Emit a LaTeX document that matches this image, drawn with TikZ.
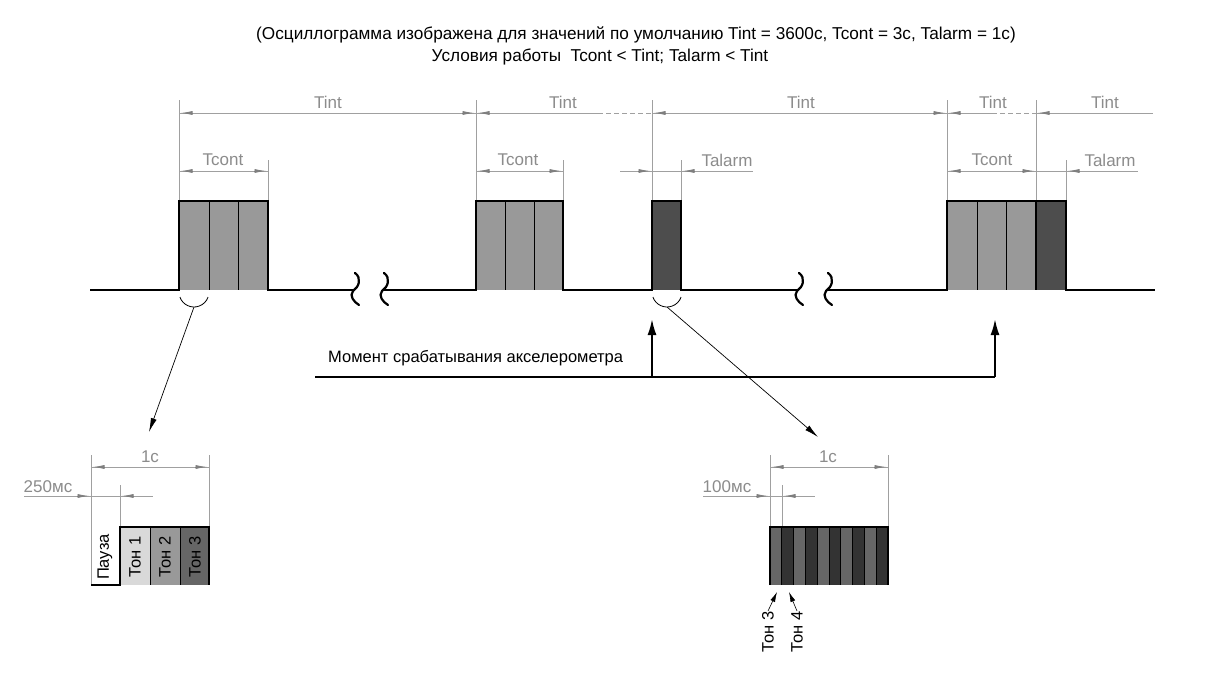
\documentclass[tikz,border=0pt]{standalone}
\usepackage{fontspec}
\setmainfont{Liberation Sans}
\usetikzlibrary{arrows.meta}
\definecolor{dimc}{HTML}{A0A0A0}
\definecolor{dimtipc}{HTML}{7F7F7F}
\definecolor{dimtxt}{HTML}{8C8C8C}
\definecolor{tonelight}{HTML}{D9D9D9}
\definecolor{tonemid}{HTML}{999999}
\definecolor{tonegray}{HTML}{666666}
\definecolor{tonedark}{HTML}{4D4D4D}
\definecolor{toneblack}{HTML}{333333}
\newcommand\mydimtip[3]{\pgfmathsetmacro\dta{#1+(#3)*14}\pgfmathsetmacro\dtb{#1+(#3)*1.5}\draw[dtip] (\dta,#2) -- (\dtb,#2);}
\newcommand\mybreak[1]{\draw[sig,line width=2.2pt,line cap=round] (#1+2,273) .. controls (#1+9,278) and (#1+6,287) .. (#1,291) .. controls (#1-4,296) and (#1+1,302) .. (#1+6,305);}
\tikzset{
  sig/.style={draw=black,line width=2.6pt,line join=miter},
  divl/.style={draw=black,line width=0.9pt},
  dimline/.style={draw=dimc,line width=0.9pt},
  dtip/.style={draw=dimtipc,line width=0.9pt,-{Latex[length=12pt,width=4pt]}},
  dlabel/.style={text=dimtxt,font=\fontsize{17}{20}\selectfont,inner sep=0pt},
  btext/.style={text=black,font=\fontsize{16.5}{19}\selectfont,inner sep=0pt},
  ttext/.style={text=black,font=\fontsize{17.2}{20}\selectfont,inner sep=0pt},
  rtext/.style={text=black,font=\fontsize{16.5}{19}\selectfont,inner sep=0pt,rotate=90},
  leader/.style={draw=black,line width=0.7pt,-{Latex[length=14pt,width=6pt]}},
  accel/.style={draw=black,line width=2pt},
  accarr/.style={draw=black,line width=2pt,-{Latex[length=16pt,width=9pt]}}
}
\begin{document}
\begin{tikzpicture}[x=1pt,y=-1pt]
\useasboundingbox[fill=white] (0,0) rectangle (1221,677);

% ---------- title ----------
\node[ttext] (title1) at (636,35) {(Осциллограмма изображена для значений по умолчанию Tint = 3600с, Tcont = 3с, Talarm = 1с)};
\node[ttext] (title2) at (600,57) {Условия работы\ \ Tcont < Tint; Talarm < Tint};

% ---------- pulse fills ----------
\fill[tonemid] (179,201) rectangle (268,290);
\fill[tonemid] (476,201) rectangle (563,290);
\fill[tonedark] (652,201) rectangle (681,290);
\fill[tonemid] (947,201) rectangle (1036,290);
\fill[tonedark] (1036,201) rectangle (1066,290);
\draw[divl] (209,201) -- (209,290) (238,201) -- (238,290);
\draw[divl] (505,201) -- (505,290) (534,201) -- (534,290);
\draw[divl] (977,201) -- (977,290) (1006,201) -- (1006,290);

% ---------- dimension lines (top) ----------
\draw[dimline] (179,100) -- (179,201) (476,100) -- (476,201) (652,100) -- (652,201)
  (947,100) -- (947,201) (1036,100) -- (1036,201);
\draw[dimline] (268,160) -- (268,201) (563,160) -- (563,201) (681,160) -- (681,201) (1066,160) -- (1066,201);
\draw[dimline] (179,113) -- (598,113) (652,113) -- (992,113) (1036,113) -- (1153,113);
\draw[dimline,dash pattern=on 5pt off 3pt] (598,113) -- (652,113) (992,113) -- (1036,113);
\draw[dimline] (179,171) -- (268,171) (476,171) -- (563,171) (620,171) -- (753,171) (947,171) -- (1138,171);
\mydimtip{179}{113}{1}
\mydimtip{476}{113}{-1}
\mydimtip{476}{113}{1}
\mydimtip{652}{113}{1}
\mydimtip{947}{113}{-1}
\mydimtip{947}{113}{1}
\mydimtip{1036}{113}{1}
\mydimtip{179}{171}{1}
\mydimtip{268}{171}{-1}
\mydimtip{476}{171}{1}
\mydimtip{563}{171}{-1}
\mydimtip{652}{171}{-1}
\mydimtip{681}{171}{1}
\mydimtip{947}{171}{1}
\mydimtip{1036}{171}{-1}
\mydimtip{1066}{171}{1}
\node[dlabel] (tint1) at (328,102) {Tint};
\node[dlabel] (tint2) at (563,102) {Tint};
\node[dlabel] (tint3) at (801,102) {Tint};
\node[dlabel] (tint4) at (993,102) {Tint};
\node[dlabel] (tint5) at (1105,102) {Tint};
\node[dlabel] (tcont1) at (223,160) {Tcont};
\node[dlabel] (tcont2) at (518,160) {Tcont};
\node[dlabel] (tcont3) at (992,160) {Tcont};
\node[dlabel] (talarm1) at (727,160) {Talarm};
\node[dlabel] (talarm2) at (1110,160) {Talarm};

% ---------- signal ----------
\draw[sig] (90,290) -- (179,290) -- (179,201) -- (268,201) -- (268,290) -- (353,290);
\mybreak{353}
\mybreak{382}
\draw[sig] (382,290) -- (476,290) -- (476,201) -- (563,201) -- (563,290) -- (652,290)
  -- (652,201) -- (681,201) -- (681,290) -- (797,290);
\mybreak{797}
\mybreak{826}
\draw[sig] (826,290) -- (947,290) -- (947,201) -- (1066,201) -- (1066,290) -- (1155,290);
\draw[sig] (1036,201) -- (1036,290);

% ---------- zoom arcs and leaders ----------
\draw[black,line width=0.8pt] (194,292) ++(200:15pt) arc[start angle=200,end angle=340,radius=15pt];
\draw[black,line width=0.8pt] (667,292) ++(200:15pt) arc[start angle=200,end angle=340,radius=15pt];
\coordinate (lead1s) at (194,307);
\coordinate (lead1e) at (149,432);
\coordinate (lead2s) at (667,307);
\coordinate (lead2e) at (818,437);
\draw[leader] (lead1s) -- (lead1e);
\draw[leader] (lead2s) -- (lead2e);

% ---------- accelerometer ----------
\node[btext,anchor=west] (acc) at (328,358) {Момент срабатывания акселерометра};
\coordinate (accL) at (315,377);
\coordinate (accA) at (652,377);
\coordinate (accB) at (995,377);
\coordinate (accAt) at (652,319);
\coordinate (accBt) at (995,319);
\draw[accel] (accL) -- (accB);
\draw[accarr] (accA) -- (accAt);
\draw[accarr] (accB) -- (accBt);

% ---------- detail 1 (bottom left) ----------
\fill[tonelight] (120,527) rectangle (150,585);
\fill[tonemid] (150,527) rectangle (180,585);
\fill[tonegray] (180,527) rectangle (209,585);
\draw[divl] (150,527) -- (150,585) (180,527) -- (180,585);
\draw[dimline] (91,455) -- (91,585) (209,455) -- (209,527) (120,485) -- (120,527);
\draw[dimline] (91,467) -- (209,467) (24,496) -- (153,496);
\mydimtip{91}{467}{1}
\mydimtip{209}{467}{-1}
\mydimtip{91}{496}{-1}
\mydimtip{120}{496}{1}
\node[dlabel] (d1s) at (150,457) {1с};
\node[dlabel] (d250) at (48,487) {250мс};
\draw[sig] (91,585) -- (120,585) -- (120,527) -- (209,527) -- (209,585);
\node[rtext] (pause) at (105,557) {Пауза};
\node[rtext] (ton1) at (135,557) {Тон 1};
\node[rtext] (ton2) at (165,557) {Тон 2};
\node[rtext] (ton3) at (195,557) {Тон 3};

% ---------- detail 2 (bottom right) ----------
\foreach \i in {0,...,9} {
  \pgfmathsetmacro\xa{770+\i*11.8}
  \pgfmathsetmacro\xb{770+(\i+1)*11.8}
  \ifodd\i
    \fill[toneblack] (\xa,527) rectangle (\xb,585);
  \else
    \fill[tonegray] (\xa,527) rectangle (\xb,585);
  \fi
  \draw[divl] (\xa,527) -- (\xa,585);
}
\draw[dimline] (770,455) -- (770,527) (888,455) -- (888,527) (782,485) -- (782,527);
\draw[dimline] (770,467) -- (888,467) (703,496) -- (815,496);
\mydimtip{770}{467}{1}
\mydimtip{888}{467}{-1}
\mydimtip{770}{496}{-1}
\mydimtip{782}{496}{1}
\node[dlabel] (d2s) at (828,457) {1с};
\node[dlabel] (d100) at (727,487) {100мс};
\draw[sig] (770,585) -- (770,527) -- (888,527) -- (888,585);
\node[rtext,anchor=east] (ton3b) at (768,611) {Тон 3};
\node[rtext,anchor=east] (ton4b) at (797,611) {Тон 4};
\draw[leader,line width=0.6pt,-{Latex[length=10pt,width=5pt]}] (ton3b.east) -- (777,592);
\draw[leader,line width=0.6pt,-{Latex[length=10pt,width=5pt]}] (ton4b.east) -- (789,592);
\end{tikzpicture}
\end{document}
